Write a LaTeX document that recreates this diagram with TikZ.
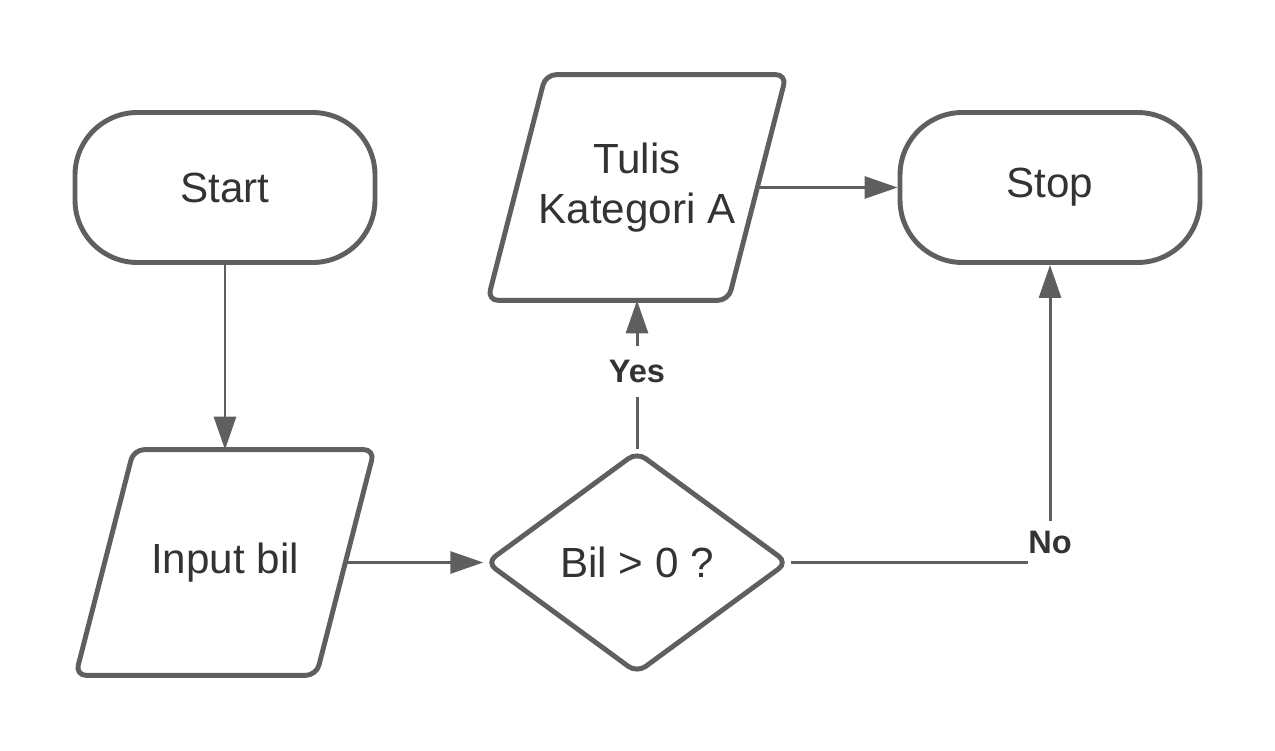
\documentclass[tikz,border=0pt]{standalone}
\usepackage{fontspec}
\setmainfont{Liberation Sans}
\usetikzlibrary{positioning,shapes.geometric,arrows.meta}
\definecolor{edge}{HTML}{5F5F5F}
\definecolor{ink}{HTML}{333333}
\tikzset{
	term/.style={draw=edge, line width=2.8pt, rectangle, rounded corners=1.25cm, minimum width=6cm, minimum height=3cm, text=ink, font=\fontsize{24}{28.5}\selectfont},
	io/.style={rectangle, minimum width=4.8cm, minimum height=4.5cm, text=ink, align=center, font=\fontsize{24}{28.5}\selectfont,
		append after command={\pgfextra{\draw[draw=edge, line width=2.8pt, rounded corners=6pt]
			([xshift=0.58cm]\tikzlastnode.north west) -- ([xshift=0.58cm]\tikzlastnode.north east)
			-- ([xshift=-0.58cm]\tikzlastnode.south east) -- ([xshift=-0.58cm]\tikzlastnode.south west) -- cycle;}}},
	decide/.style={draw=edge, line width=2.8pt, diamond, rounded corners=6pt, minimum width=6.05cm, minimum height=4.45cm, text=ink, font=\fontsize{24}{28.5}\selectfont},
	line/.style={draw=edge, line width=1.7pt, -{Triangle[length=0.66cm, width=0.44cm]}},
	lbl/.style={fill=white, anchor=center, text=ink, font=\fontsize{18.5}{22}\selectfont\bfseries}
}
\begin{document}
\begin{tikzpicture}[node distance=7.5cm, auto]
		\useasboundingbox (0,0) rectangle (25.5,15);
		\node[term] (start) at (4.5,11.25) {Start};
		\node[io] (inp) [below of=start] {Input bil};
		\node[decide] (dec) [right of=inp, node distance=8.24cm] {Bil > 0 ?};
		\node[io] (tulis) [above of=dec] {Tulis\\Kategori A};
		\node[term] (stop) [right of=tulis, node distance=8.26cm] {Stop};
		\draw[line](start) to (inp);
		\draw[line](inp) to (dec);
		\draw[line](dec) to node [lbl, pos=0.52, inner ysep=8pt] {Yes} (tulis);
		\draw[line](tulis) to (stop);
		\draw[line](dec) -| node [lbl, pos=0.5, yshift=0.4cm, inner xsep=0pt, inner ysep=5.5pt] {No} (stop);
		\end{tikzpicture}
\end{document}
